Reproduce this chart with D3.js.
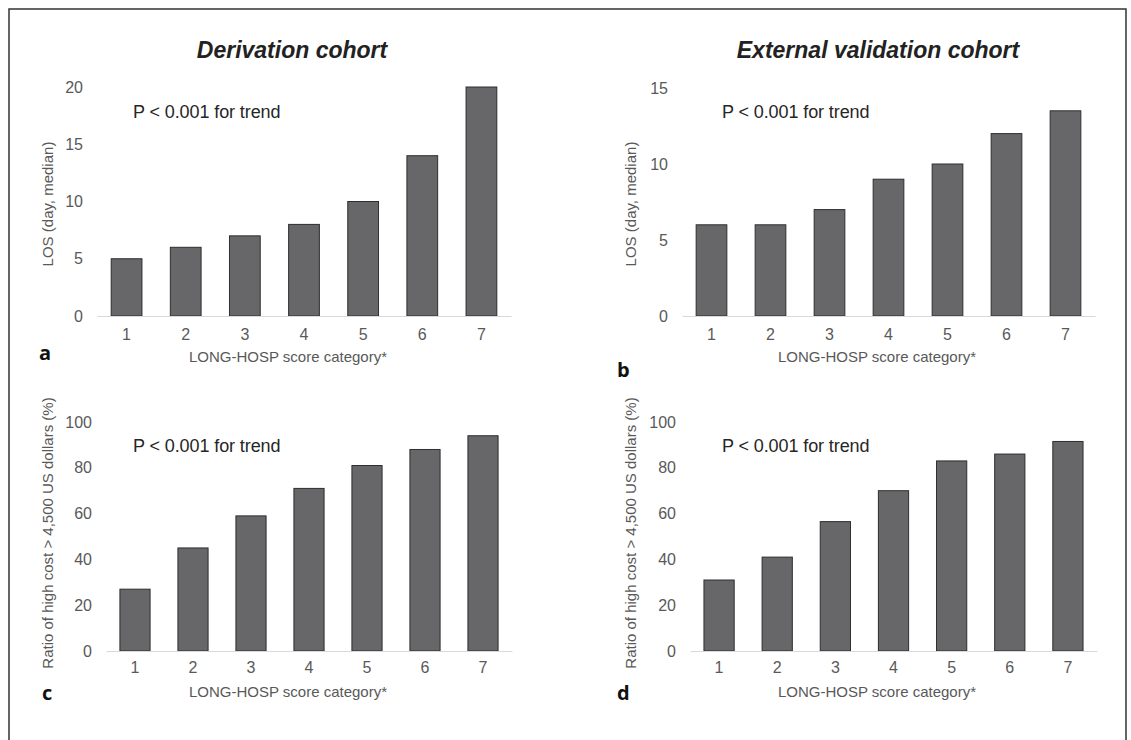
<!DOCTYPE html>
<html>
<head>
<meta charset="utf-8">
<script src="https://cdn.jsdelivr.net/npm/d3@7"></script>
<style>
  body { margin: 0; background: #fff; }
  svg { display: block; font-family: "Liberation Sans", Arial, sans-serif; }
</style>
</head>
<body>
<div id="chart"></div>
<script>
// values
const categories = ["1", "2", "3", "4", "5", "6", "7"];
const losDerivation = [5, 6, 7, 8, 10, 14, 20];
const losValidation = [6, 6, 7, 9, 10, 12, 13.5];
const costDerivation = [27, 45, 59, 71, 81, 88, 94];
const costValidation = [31, 41, 56.5, 70, 83, 86, 91.5];

const losTicksDerivation = [0, 5, 10, 15, 20];
const losTicksValidation = [0, 5, 10, 15];
const costTicks = [0, 20, 40, 60, 80, 100];

const titles = ["Derivation cohort", "External validation cohort"];
const pText = "P < 0.001 for trend";
const xTitle = "LONG-HOSP score category*";
const yTitleLos = "LOS (day, median)";
const yTitleCost = "Ratio of high cost > 4,500 US dollars (%)";

const width = 1131, height = 740;

const svg = d3.select("#chart").append("svg")
    .attr("width", width)
    .attr("height", height);

// outer frame (open at the bottom)
svg.append("path")
    .attr("d", "M9,740V9H1126V740")
    .attr("fill", "none")
    .attr("stroke", "#333")
    .attr("stroke-width", 1.5);

function drawPanel({values, ticks, ymax, xr, yr, yTitle, yTitlePos, pPos, xTitlePos, letter, letterPos}) {
    const x = d3.scaleBand().domain(categories).range(xr).paddingInner(0.48).paddingOuter(0.24);
    const y = d3.scaleLinear().domain([0, ymax]).range(yr);

    const g = svg.append("g");

    // bars
    g.append("g")
        .selectAll("rect")
        .data(values)
        .join("rect")
        .attr("x", (d, i) => x(categories[i]))
        .attr("y", d => y(d))
        .attr("width", x.bandwidth())
        .attr("height", d => y(0) - y(d))
        .attr("fill", "#67676a")
        .attr("stroke", "#2e2e2e")
        .attr("stroke-width", 1);

    // x axis (light baseline)
    const xa = g.append("g")
        .attr("transform", `translate(0,${y(0)})`)
        .call(d3.axisBottom(x).tickSize(0).tickSizeOuter(0).tickPadding(yr[0] > 500 ? 11 : 13));
    xa.select(".domain").attr("stroke", "#d9d9d9").attr("stroke-width", 1.2);
    xa.selectAll("text").attr("font-size", 16).attr("fill", "#595959").attr("font-family", null);

    // y axis (labels only)
    const ya = g.append("g")
        .attr("transform", `translate(${xr[0]},0)`)
        .call(d3.axisLeft(y).tickValues(ticks).tickSize(0).tickPadding(14));
    ya.select(".domain").remove();
    ya.selectAll("text").attr("font-size", 16).attr("fill", "#595959").attr("font-family", null);

    // y title
    g.append("text")
        .attr("transform", `translate(${yTitlePos[0]},${yTitlePos[1]}) rotate(-90)`)
        .attr("text-anchor", "middle")
        .attr("dy", "0.35em")
        .attr("font-size", 15)
        .attr("fill", "#595959")
        .text(yTitle);

    // x title
    g.append("text")
        .attr("x", xTitlePos[0])
        .attr("y", xTitlePos[1])
        .attr("text-anchor", "middle")
        .attr("font-size", 15)
        .attr("fill", "#595959")
        .text(xTitle);

    // trend annotation
    g.append("text")
        .attr("x", pPos[0])
        .attr("y", pPos[1])
        .attr("font-size", 18)
        .attr("letter-spacing", -0.1)
        .attr("fill", "#262626")
        .text(pText);

    // panel letter
    g.append("text")
        .attr("x", letterPos[0])
        .attr("y", letterPos[1])
        .attr("font-size", 20)
        .attr("font-weight", "bold")
        .attr("fill", "#111")
        .attr("font-family", "'Open Sans', 'DejaVu Sans', sans-serif")
        .text(letter);
}

// column titles
svg.selectAll(".title")
    .data(titles)
    .join("text")
    .attr("class", "title")
    .attr("x", (d, i) => i === 0 ? 292 : 878)
    .attr("y", 58)
    .attr("text-anchor", "middle")
    .attr("font-size", 23)
    .attr("font-weight", "bold")
    .attr("font-style", "italic")
    .attr("fill", "#222")
    .text(d => d);

drawPanel({
    values: losDerivation, ticks: losTicksDerivation, ymax: 20,
    xr: [97, 511], yr: [316, 87],
    yTitle: yTitleLos, yTitlePos: [48, 204],
    pPos: [133, 118], xTitlePos: [288, 362],
    letter: "a", letterPos: [39, 360]
});
drawPanel({
    values: losValidation, ticks: losTicksValidation, ymax: 15,
    xr: [682, 1095], yr: [316, 88],
    yTitle: yTitleLos, yTitlePos: [631, 204],
    pPos: [722, 118], xTitlePos: [877, 362],
    letter: "b", letterPos: [617, 377]
});
drawPanel({
    values: costDerivation, ticks: costTicks, ymax: 100,
    xr: [106, 512], yr: [651, 422],
    yTitle: yTitleCost, yTitlePos: [48, 533],
    pPos: [133, 452], xTitlePos: [288, 697],
    letter: "c", letterPos: [42, 700]
});
drawPanel({
    values: costValidation, ticks: costTicks, ymax: 100,
    xr: [690, 1097], yr: [651, 422],
    yTitle: yTitleCost, yTitlePos: [631, 533],
    pPos: [722, 452], xTitlePos: [877, 697],
    letter: "d", letterPos: [617, 700]
});
</script>
</body>
</html>
